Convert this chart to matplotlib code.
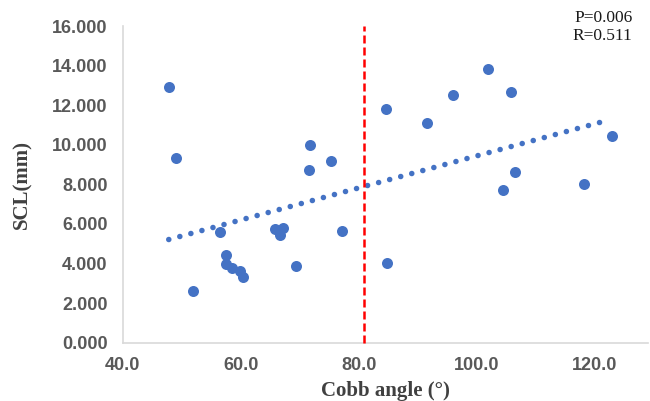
import matplotlib.pyplot as plt
import numpy as np

# Cobb angle (deg) vs SCL (mm)
cobb = np.array([47.8, 49.0, 51.9, 56.5, 57.5, 57.5, 58.5, 59.9, 60.3,
                 65.8, 67.1, 66.7, 69.4, 71.7, 71.5, 75.3, 77.2, 84.8,
                 84.6, 91.6, 96.0, 101.9, 105.8, 106.5, 104.4, 118.1, 122.9])
scl = np.array([12.94, 9.33, 2.61, 5.59, 4.44, 3.97, 3.77, 3.63, 3.34,
                5.74, 5.79, 5.45, 3.88, 9.97, 8.71, 9.20, 5.62, 4.02,
                11.82, 11.11, 12.54, 13.84, 12.66, 8.61, 7.70, 8.00, 10.45])
cutoff = 80.8
stats_text = "P=0.006\nR=0.511"

blue = "#4472C4"
grey = "#595959"

fig = plt.figure(figsize=(6.5, 4.01), dpi=100)
ax = fig.add_axes([0.1888, 0.1454, 0.8082, 0.7896])

ax.scatter(cobb, scl, s=63, color=blue, zorder=3, linewidths=0)

# linear trendline (like Excel)
k, b = np.polyfit(cobb, scl, 1)
xs = np.array([cobb.min(), cobb.max() - 1.2])
ax.plot(xs, k * xs + b, color=blue, lw=4.0, linestyle=(0, (0.01, 2.05)),
        dash_capstyle="round", zorder=2)

ax.plot([cutoff, cutoff], [0, 16], color="#FF0000", lw=1.8,
        linestyle=(0, (3.2, 1.6)), zorder=4, clip_on=False)

ax.set_xlim(40, 129)
ax.set_ylim(0, 16)
ax.set_xticks(np.arange(40, 121, 20))
ax.set_yticks(np.arange(0, 17, 2))
ax.set_xticklabels([f"{v:.1f}" for v in np.arange(40, 121, 20)])
ax.set_yticklabels([f"{v:.3f}" for v in np.arange(0, 17, 2)])
ax.tick_params(axis="y", length=0, labelsize=13, labelcolor=grey, pad=11)
ax.tick_params(axis="x", length=0, labelsize=13, labelcolor=grey, pad=10)
for lab in ax.get_xticklabels() + ax.get_yticklabels():
    lab.set_fontfamily("Liberation Sans")
    lab.set_fontweight("bold")

for s in ["top", "right"]:
    ax.spines[s].set_visible(False)
ax.spines["left"].set_color("#D9D9D9")
ax.spines["bottom"].set_color("#D9D9D9")
ax.spines["left"].set_linewidth(1.2)
ax.spines["bottom"].set_linewidth(1.2)

ax.set_xlabel("Cobb angle (°)", fontsize=15, fontweight="bold",
              family="Liberation Serif", color="#404040", labelpad=5)
ax.set_ylabel("SCL(mm)", fontsize=15, fontweight="bold",
              family="Liberation Serif", color="#404040", labelpad=14)

fig.text(0.973, 0.975, stats_text, ha="right", va="top", fontsize=12.5,
         family="Liberation Serif", color="#1a1a1a", linespacing=1.15)

fig.savefig("out.png", dpi=100, facecolor="white")
